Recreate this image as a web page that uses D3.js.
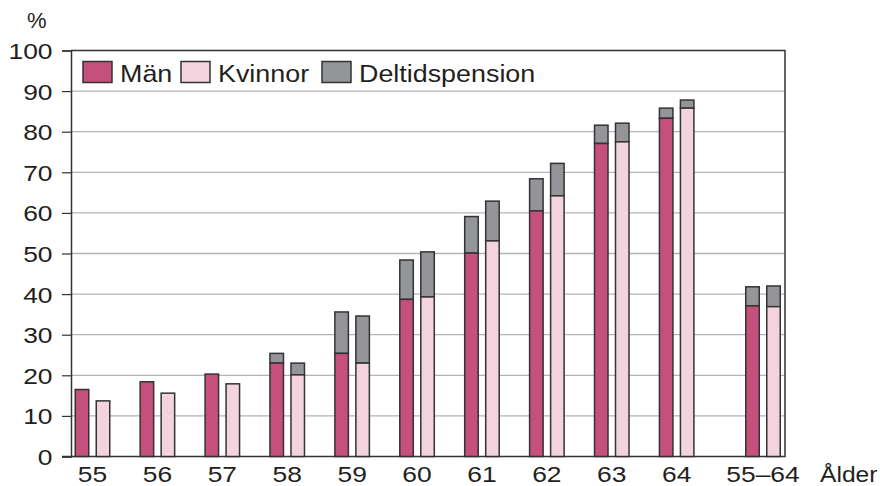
<!DOCTYPE html>
<html>
<head>
<meta charset="utf-8">
<script src="https://cdn.jsdelivr.net/npm/d3@7"></script>
<style>
  body { margin: 0; background: #fff; }
  text { font-family: "Liberation Sans", Arial, sans-serif; fill: #231f20; }
</style>
</head>
<body>
<script>
// data
const ages = ['55', '56', '57', '58', '59', '60', '61', '62', '63', '64', '55–64'];
const man = [16.5, 18.4, 20.3, 23.0, 25.4, 38.7, 50.1, 60.5, 77.1, 83.3, 37.1];
const manTotal = [16.5, 18.4, 20.3, 25.4, 35.6, 48.4, 59.1, 68.4, 81.6, 85.8, 41.8];
const kvinnor = [13.7, 15.6, 17.9, 20.1, 23.0, 39.3, 53.1, 64.2, 77.5, 85.8, 36.9];
const kvinnorTotal = [13.7, 15.6, 17.9, 23.0, 34.6, 50.4, 62.9, 72.2, 82.1, 87.8, 42.0];
const yTicks = [0, 10, 20, 30, 40, 50, 60, 70, 80, 90, 100];

const width = 880;
const height = 486;
const m = { left: 71, right: 785, top: 50.5, bottom: 456.5 };
const colMan = '#c5507b';
const colKv = '#f3d4de';
const colDelt = '#939598';
const stroke = '#333333';
const fs = 22;      // label font size
const sx = 1.2;     // the original type is set wide

const svg = d3.select('body')
  .append('svg')
  .attr('width', width)
  .attr('height', height);

// draw text stretched horizontally around its anchor point
function wideText(parent, px, py, str, size, anchor, k) {
  return parent.append('text')
    .attr('transform', `translate(${px},${py}) scale(${k || sx},1)`)
    .attr('text-anchor', anchor || 'start')
    .attr('font-size', size || fs)
    .text(str);
}

// group slot: ages 0..9, total group sits a bit further out
const slot = (i) => i < 10 ? i : 10.33;
const x = d3.scaleLinear().domain([0, 10.33]).range([92.5, 763]);
const y = d3.scaleLinear().domain([0, 100]).range([m.bottom, m.top]);

// grid
svg.append('g')
  .selectAll('line')
  .data(yTicks.filter((d) => d > 0 && d < 100))
  .enter()
  .append('line')
  .attr('x1', m.left).attr('x2', m.right)
  .attr('y1', (d) => y(d)).attr('y2', (d) => y(d))
  .attr('stroke', '#b4b4b8')
  .attr('stroke-width', 1.3);

// y axis
const yAxis = d3.axisLeft(y).tickValues(yTicks).tickSize(9).tickPadding(0);
const ga = svg.append('g').attr('transform', `translate(${m.left},0)`).call(yAxis);
ga.select('.domain').attr('stroke', stroke).attr('stroke-width', 1.5);
ga.selectAll('.tick line').attr('stroke', stroke).attr('stroke-width', 1.2);
ga.selectAll('.tick text')
  .attr('x', null)
  .attr('dy', '0.36em')
  .attr('transform', `translate(-18.5,0) scale(${sx},1)`)
  .attr('font-size', fs)
  .attr('font-family', '"Liberation Sans", Arial, sans-serif')
  .attr('fill', '#231f20');

// frame top / right / bottom
svg.append('path')
  .attr('d', `M${m.left},${m.top}H${m.right}V${m.bottom}H${m.left - 9}`)
  .attr('fill', 'none')
  .attr('stroke', stroke)
  .attr('stroke-width', 1.5);

const bw = 13.5;
const off = 10.5;

function bars(vals, totals, dx, fill) {
  const rows = vals.map((v, i) => ({ i, v, t: totals[i] }));
  const g = svg.append('g');
  // deltidspension segment on top
  g.selectAll('rect.delt')
    .data(rows.filter((d) => d.t > d.v))
    .enter()
    .append('rect')
    .attr('x', (d) => x(slot(d.i)) + dx - bw / 2)
    .attr('y', (d) => y(d.t))
    .attr('width', bw)
    .attr('height', (d) => y(d.v) - y(d.t))
    .attr('fill', colDelt)
    .attr('stroke', stroke)
    .attr('stroke-width', 1.5);
  g.selectAll('rect.base')
    .data(rows)
    .enter()
    .append('rect')
    .attr('x', (d) => x(slot(d.i)) + dx - bw / 2)
    .attr('y', (d) => y(d.v))
    .attr('width', bw)
    .attr('height', (d) => y(0) - y(d.v))
    .attr('fill', fill)
    .attr('stroke', stroke)
    .attr('stroke-width', 1.5);
}
bars(man, manTotal, -off, colMan);
bars(kvinnor, kvinnorTotal, off, colKv);

// x labels
const gx = svg.append('g');
ages.forEach((a, i) => wideText(gx, x(slot(i)), 482, a, fs, 'middle'));

wideText(svg, 820, 482, 'Ålder', fs, 'start', 1.12);
wideText(svg, 27, 28, '%', fs, 'start', 1.0);

// legend
const legend = [
  { name: 'Män', color: colMan, x: 83 },
  { name: 'Kvinnor', color: colKv, x: 181 },
  { name: 'Deltidspension', color: colDelt, x: 322 }
];
legend.forEach((d) => {
  const g = svg.append('g').attr('transform', `translate(${d.x},61.5)`);
  g.append('rect')
    .attr('width', 29).attr('height', 21)
    .attr('fill', d.color)
    .attr('stroke', stroke)
    .attr('stroke-width', 1.5);
  wideText(g, 37, 20.5, d.name, 24, 'start', 1.12);
});
</script>
</body>
</html>
